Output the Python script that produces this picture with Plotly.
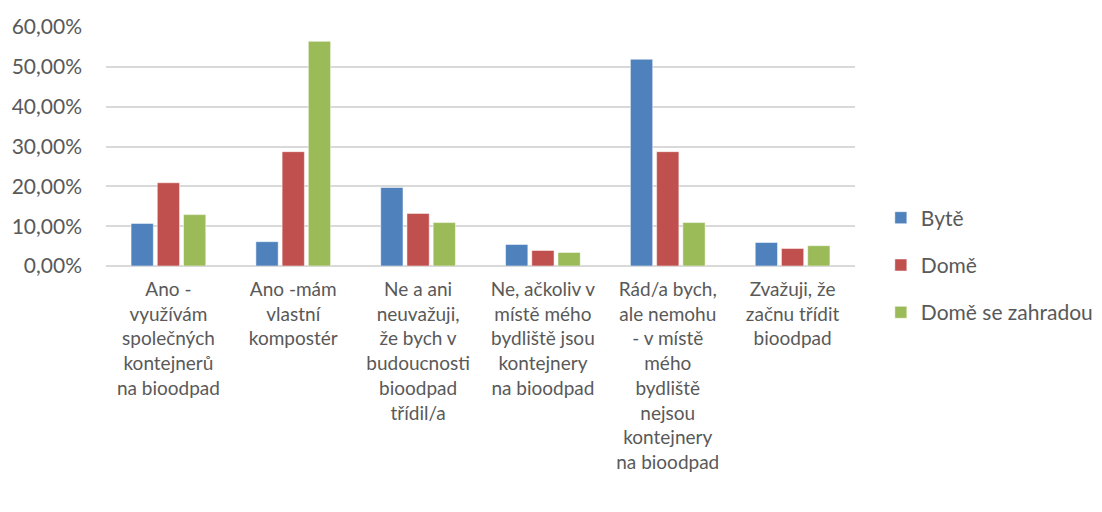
import plotly.graph_objects as go

categories = [
    "Ano -<br>využívám<br>společných<br>kontejnerů<br>na bioodpad",
    "Ano -mám<br>vlastní<br>kompostér",
    "Ne a ani<br>neuvažuji,<br>že bych v<br>budoucnosti<br>bioodpad<br>třídil/a",
    "Ne, ačkoliv v<br>místě mého<br>bydliště jsou<br>kontejnery<br>na bioodpad",
    "Rád/a bych,<br>ale nemohu<br>- v místě<br>mého<br>bydliště<br>nejsou<br>kontejnery<br>na bioodpad",
    "Zvažuji, že<br>začnu třídit<br>bioodpad",
]
series_names = ["Bytě", "Domě", "Domě se zahradou"]
byte = [0.107, 0.061, 0.197, 0.054, 0.519, 0.059]
dome = [0.209, 0.287, 0.132, 0.039, 0.287, 0.044]
zahrada = [0.129, 0.564, 0.109, 0.034, 0.109, 0.051]
values = [byte, dome, zahrada]
colors = ["#4F81BD", "#C0504D", "#9BBB59"]
y_ticks = [0, 0.1, 0.2, 0.3, 0.4, 0.5, 0.6]

FONT = "Lato"
GREY = "#595959"
fig = go.Figure()
for i, (name, vals, col) in enumerate(zip(series_names, values, colors)):
    fig.add_trace(go.Bar(
        x=list(range(len(categories))), y=vals, name=name,
        marker=dict(color=col, line=dict(color="rgba(255,255,255,0.5)", width=1)),
        legendgroup=str(i),
    ))

fig.update_layout(
    width=1102, height=512,
    margin=dict(l=98, r=251, t=19, b=254),
    paper_bgcolor="white", plot_bgcolor="white",
    barmode="group", bargap=0.37, bargroupgap=0.15,
    separators=", ",
    font=dict(family=FONT, size=19, color=GREY),
    showlegend=True,
    legend=dict(x=1.0345, y=0.004, yanchor="middle", xanchor="left",
                tracegroupgap=17, traceorder="grouped",
                font=dict(family=FONT, size=21, color=GREY),
                itemwidth=30),
    xaxis=dict(tickmode="array", tickvals=list(range(len(categories))), ticktext=categories,
               range=[-0.5, 5.5], showgrid=False, showline=False, ticks="",
               ticklabelstandoff=10, automargin=False,
               tickfont=dict(family=FONT, size=19, color=GREY), tickangle=0),
    yaxis=dict(range=[0, 0.6], tickvals=y_ticks, tickformat=".2%",
               showgrid=True, gridcolor="#D9D9D9", gridwidth=1.5,
               zeroline=True, zerolinecolor="#D9D9D9", zerolinewidth=1.5,
               showline=False, ticks="", ticklabelstandoff=23, automargin=False,
               tickfont=dict(family=FONT, size=21, color=GREY)),
)

fig.write_html("out.html")
